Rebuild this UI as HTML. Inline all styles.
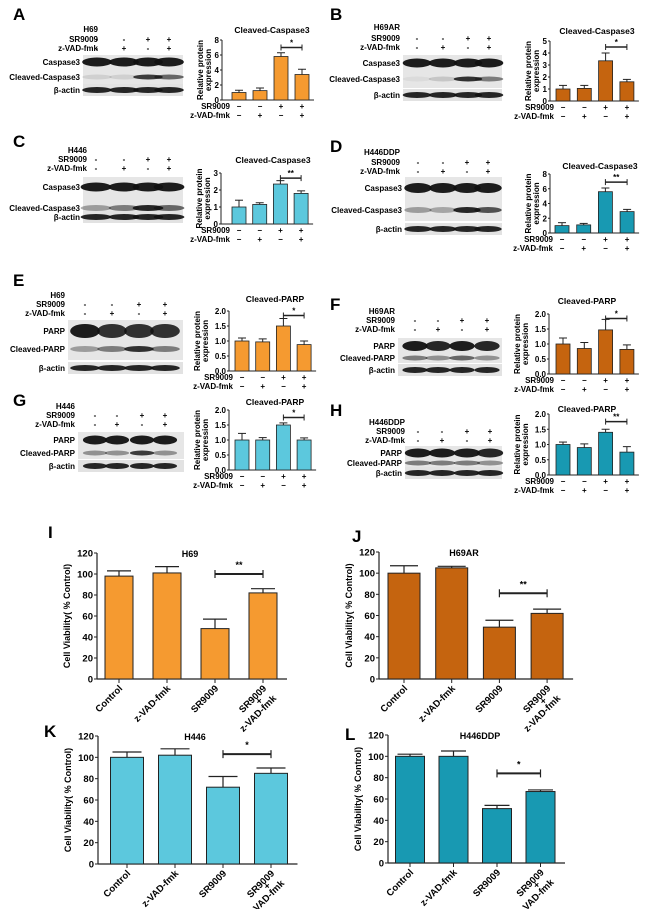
<!DOCTYPE html>
<html><head><meta charset="utf-8">
<style>
html,body{margin:0;padding:0;background:#fff;}
svg{display:block;font-family:"Liberation Sans",Arial,sans-serif;font-weight:bold;}
</style></head>
<body>
<svg id="fig" width="645" height="909" viewBox="0 0 645 909" xmlns="http://www.w3.org/2000/svg"></svg>
<script>
// ---- data: small western-blot quantification charts ----
const treatSR = ["-","-","+","+"];
const treatZ = ["-","+","-","+"];
const aVals = [1.0,1.25,5.8,3.4];   const aErr = [0.3,0.35,0.5,0.7];
const bVals = [1.0,1.05,3.35,1.6];  const bErr = [0.3,0.25,0.65,0.2];
const cVals = [1.0,1.15,2.35,1.8];  const cErr = [0.4,0.1,0.2,0.15];
const dVals = [1.0,1.1,5.6,2.9];    const dErr = [0.4,0.2,0.5,0.3];
const eVals = [1.0,0.97,1.5,0.88];  const eErr = [0.1,0.1,0.25,0.12];
const fVals = [1.0,0.85,1.47,0.82]; const fErr = [0.2,0.2,0.35,0.15];
const gVals = [1.0,1.0,1.5,1.0];    const gErr = [0.22,0.08,0.07,0.07];
const hVals = [1.0,0.9,1.4,0.75];   const hErr = [0.08,0.12,0.1,0.18];
const ticks8 = [0,2,4,6,8]; const ticks5 = [0,1,2,3,4,5]; const ticks3 = [0,1,2,3];
const ticks2 = ["0.0","0.5","1.0","1.5","2.0"];
// ---- data: cell viability charts ----
const viabCats = ["Control","z-VAD-fmk","SR9009","SR9009|+|z-VAD-fmk"];
const iVals = [98,101,48,82];  const iErr = [5,6,9,4];
const jVals = [100,105,49,62]; const jErr = [7,1.5,6.5,4];
const kVals = [100,102,72,85]; const kErr = [5,6,10,5];
const lVals = [100,100,51,67]; const lErr = [2,5,3,1.5];
const viabTicks = [0,20,40,60,80,100,120];

const NS = "http://www.w3.org/2000/svg";
const svg = document.getElementById("fig");
function el(tag, attrs, parent, text){
  const e = document.createElementNS(NS, tag);
  for (const k in attrs) e.setAttribute(k, attrs[k]);
  if (text !== undefined) e.textContent = text;
  (parent || svg).appendChild(e);
  return e;
}
function letter(t, x, y){
  const e = el("text",{x:x,y:y,"font-size":17},svg,t);
  
  
}

// ---- blot drawing ----
function blot(o){
  const g = el("g",{});
  
  
  el("text",{x:o.labelX,y:o.cellY,"font-size":8,"text-anchor":"end"},g,o.cell);
  el("text",{x:o.labelX,y:o.srY,"font-size":8,"text-anchor":"end"},g,"SR9009");
  el("text",{x:o.labelX,y:o.zY,"font-size":8,"text-anchor":"end"},g,"z-VAD-fmk");
  o.lanes.forEach((lx,i)=>{
    el("text",{x:lx,y:o.srY,"font-size":8,"text-anchor":"middle"},g,treatSR[i]);
    el("text",{x:lx,y:o.zY,"font-size":8,"text-anchor":"middle"},g,treatZ[i]);
  });
  el("rect",{x:o.bx,y:o.by,width:o.bw,height:o.bh,fill:"#e6e6e6"},g);
  el("rect",{x:o.bx,y:o.ay-6,width:o.bw,height:12,fill:"#e2e2e2"},g);
  const lw = (o.lanes[1]-o.lanes[0])*0.55;
  o.rows.forEach(r=>{
    el("text",{x:o.bx-3,y:r.y+3,"font-size":8,"text-anchor":"end"},g,r.label);
    o.lanes.forEach((lx,i)=>{
      const a = r.int[i];
      el("ellipse",{cx:lx,cy:r.y,rx:lw,ry:r.h,fill:"#111","fill-opacity":a},g);
    });
  });
  el("text",{x:o.bx-3,y:o.ay+3,"font-size":8,"text-anchor":"end"},g,"β-actin");
  o.lanes.forEach(lx=>{
    el("ellipse",{cx:lx,cy:o.ay,rx:lw,ry:3,fill:"#111","fill-opacity":0.9},g);
  });
}

// ---- small bar chart ----
function smallChart(o){
  const g = el("g",{});
  
  
  const ys = v => o.y0 - (v/o.max)*(o.y0-o.ytop);
  const xs = i => o.c0 + o.step*i;
  const bw = 14;
  el("text",{x:o.titleX,y:o.titleY,"font-size":8.5,"text-anchor":"middle"},g,o.title);
  const xEnd = xs(3)+bw/2+5;
  el("line",{x1:o.ax,y1:o.y0,x2:xEnd,y2:o.y0,stroke:"#222","stroke-width":1},g);
  el("line",{x1:o.ax,y1:o.y0,x2:o.ax,y2:o.ytop,stroke:"#222","stroke-width":1},g);
  o.ticks.forEach(t=>{
    const v = parseFloat(t); const y = ys(v);
    el("line",{x1:o.ax-2,y1:y,x2:o.ax,y2:y,stroke:"#222"},g);
    el("text",{x:o.ax-3,y:y+3,"font-size":8,"text-anchor":"end"},g,t);
  });
  const off = o.ticks[0].toString().length>1 ? 25 : 15;
  const yt = el("text",{transform:`translate(${o.ax-off},${(o.y0+o.ytop)/2}) rotate(-90)`,"font-size":8,"text-anchor":"middle"},g);
  el("tspan",{x:0,dy:-4},yt,"Relative protein");
  el("tspan",{x:0,dy:8},yt,"expression");
  o.vals.forEach((v,i)=>{
    const cx = xs(i);
    const b = el("rect",{x:cx-bw/2,y:ys(v),width:bw,height:o.y0-ys(v),fill:o.color,stroke:"#222","stroke-width":0.8},g);
    
    
    const ye = ys(v+o.err[i]);
    el("line",{x1:cx,y1:ys(v),x2:cx,y2:ye,stroke:"#222"},g);
    el("line",{x1:cx-4,y1:ye,x2:cx+4,y2:ye,stroke:"#222"},g);
    el("text",{x:cx,y:o.y0+9,"font-size":8,"text-anchor":"middle"},g,treatSR[i]==="-"?"−":"+");
    el("text",{x:cx,y:o.y0+18,"font-size":8,"text-anchor":"middle"},g,treatZ[i]==="-"?"−":"+");
  });
  el("text",{x:xs(0)-9,y:o.y0+9,"font-size":8,"text-anchor":"end"},g,"SR9009");
  el("text",{x:xs(0)-9,y:o.y0+18,"font-size":8,"text-anchor":"end"},g,"z-VAD-fmk");
  const sy = ys(o.sigV);
  el("line",{x1:xs(2),y1:sy,x2:xs(3),y2:sy,stroke:"#222","stroke-width":1.5},g);
  el("line",{x1:xs(2),y1:sy-3,x2:xs(2),y2:sy+3,stroke:"#222"},g);
  el("line",{x1:xs(3),y1:sy-3,x2:xs(3),y2:sy+3,stroke:"#222"},g);
  el("text",{x:(xs(2)+xs(3))/2,y:sy-2,"font-size":8,"text-anchor":"middle"},g,o.sig);
}

// ---- big viability chart ----
function bigChart(o){
  const g = el("g",{});
  
  
  const ys = v => o.y0 - (v/120)*(o.y0-o.ytop);
  const xs = i => o.c0 + o.step*i;
  el("text",{x:o.titleX,y:o.ytop+4,"font-size":9,"text-anchor":"middle"},g,o.title);
  const xEnd = xs(3)+o.bw/2+10;
  el("line",{x1:o.ax,y1:o.y0,x2:xEnd,y2:o.y0,stroke:"#222","stroke-width":1.2},g);
  el("line",{x1:o.ax,y1:o.y0,x2:o.ax,y2:o.ytop,stroke:"#222","stroke-width":1.2},g);
  viabTicks.forEach(t=>{
    const y = ys(t);
    el("line",{x1:o.ax-3,y1:y,x2:o.ax,y2:y,stroke:"#222"},g);
    el("text",{x:o.ax-4,y:y+3.5,"font-size":9.5,"text-anchor":"end"},g,t);
  });
  el("text",{transform:`translate(${o.ax-27},${(o.y0+o.ytop)/2}) rotate(-90)`,"font-size":9,"text-anchor":"middle"},g,"Cell Viability( % Control)");
  o.vals.forEach((v,i)=>{
    const cx = xs(i);
    const b = el("rect",{x:cx-o.bw/2,y:ys(v),width:o.bw,height:o.y0-ys(v),fill:o.color,stroke:"#222","stroke-width":1}, g);
    
    
    const ye = ys(v+o.err[i]);
    el("line",{x1:cx,y1:ys(v),x2:cx,y2:ye,stroke:"#222","stroke-width":1.2},g);
    el("line",{x1:cx-o.bw/2+2,y1:ye,x2:cx+o.bw/2-2,y2:ye,stroke:"#222","stroke-width":1.2},g);
    el("line",{x1:cx,y1:o.y0,x2:cx,y2:o.y0+4,stroke:"#222"},g);
    const lines = viabCats[i].split("|");
    const t = el("text",{transform:`translate(${cx+4},${o.y0+10}) rotate(-45)`,"font-size":9.5},g);
    lines.forEach((s,k)=>{
      if (k===0) el("tspan",{x:0,dy:0,"text-anchor":"end"},t,s);
      else if (k===1) el("tspan",{x:-14,dy:6,"text-anchor":"middle"},t,s);
      else el("tspan",{x:0,dy:8,"text-anchor":"end"},t,s);
    });
  });
  const sy = ys(o.sigV);
  el("line",{x1:xs(2),y1:sy,x2:xs(3),y2:sy,stroke:"#222","stroke-width":2},g);
  el("line",{x1:xs(2),y1:sy-4,x2:xs(2),y2:sy+4,stroke:"#222","stroke-width":1.2},g);
  el("line",{x1:xs(3),y1:sy-4,x2:xs(3),y2:sy+4,stroke:"#222","stroke-width":1.2},g);
  el("text",{x:(xs(2)+xs(3))/2,y:sy-6,"font-size":9,"text-anchor":"middle"},g,o.sig);
}

const ORANGE="#f59a30", DORANGE="#c5640f", LBLUE="#5cc8dd", TEAL="#1899b2";

// panel letters
letter("A",13,20); letter("B",330,20); letter("C",13,147); letter("D",330,152);
letter("E",13,286); letter("F",330,310); letter("G",13,406); letter("H",330,416);
letter("I",48,538); letter("J",352,542); letter("K",44,737); letter("L",345,740);

// blots
blot({name:"blot-a",cell:"H69",labelX:98,cellY:32,srY:42,zY:51,lanes:[97,124,148,169],bx:83,by:55,bw:100,bh:29,ay:90,
  rows:[{label:"Caspase3",y:62,h:4.5,int:[0.95,0.95,0.95,0.95]},{label:"Cleaved-Caspase3",y:77,h:2.5,int:[0.1,0.1,0.8,0.6]}]});
blot({name:"blot-b",cell:"H69AR",labelX:400,cellY:30,srY:41,zY:50,lanes:[417,443,468,489],bx:403,by:55,bw:99,bh:33,ay:95,
  rows:[{label:"Caspase3",y:63,h:4.5,int:[0.95,0.95,0.95,0.95]},{label:"Cleaved-Caspase3",y:79,h:2.5,int:[0.05,0.15,0.85,0.5]}]});
blot({name:"blot-c",cell:"H446",labelX:87,cellY:153,srY:162,zY:171,lanes:[96,124,148,169],bx:83,by:177,bw:100,bh:34,ay:217,
  rows:[{label:"Caspase3",y:187,h:4.5,int:[0.95,0.95,0.95,0.95]},{label:"Cleaved-Caspase3",y:208,h:3,int:[0.35,0.5,0.9,0.6]}]});
blot({name:"blot-d",cell:"H446DDP",labelX:400,cellY:155,srY:165,zY:174,lanes:[418,443,467,488],bx:405,by:177,bw:97,bh:44,ay:229,
  rows:[{label:"Caspase3",y:188,h:5,int:[0.95,0.95,0.95,0.95]},{label:"Cleaved-Caspase3",y:210,h:3,int:[0.35,0.3,0.9,0.7]}]});
blot({name:"blot-e",cell:"H69",labelX:65,cellY:298,srY:307,zY:316,lanes:[85,112,139,165],bx:68,by:320,bw:115,bh:40,ay:368,
  rows:[{label:"PARP",y:331,h:7,int:[0.95,0.85,0.85,0.85]},{label:"Cleaved-PARP",y:349,h:3,int:[0.35,0.5,0.85,0.5]}]});
blot({name:"blot-f",cell:"H69AR",labelX:395,cellY:314,srY:323,zY:332,lanes:[415,438,462,487],bx:398,by:338,bw:104,bh:25,ay:370,
  rows:[{label:"PARP",y:346,h:5,int:[0.95,0.9,0.95,0.9]},{label:"Cleaved-PARP",y:358,h:2.5,int:[0.5,0.4,0.6,0.4]}]});
blot({name:"blot-g",cell:"H446",labelX:75,cellY:409,srY:418,zY:427,lanes:[95,117,142,165],bx:78,by:432,bw:106,bh:27,ay:466,
  rows:[{label:"PARP",y:440,h:4.5,int:[0.95,0.95,0.95,0.95]},{label:"Cleaved-PARP",y:453,h:2.5,int:[0.4,0.4,0.8,0.4]}]});
blot({name:"blot-h",cell:"H446DDP",labelX:405,cellY:425,srY:434,zY:443,lanes:[418,442,467,490],bx:405,by:446,bw:97,bh:22,ay:473,
  rows:[{label:"PARP",y:453,h:4.5,int:[0.95,0.95,0.95,0.9]},{label:"Cleaved-PARP",y:463,h:2.5,int:[0.5,0.5,0.5,0.4]}]});

// small charts
smallChart({name:"chart-a",title:"Cleaved-Caspase3",titleX:272,titleY:33,ax:222,y0:100,ytop:40,max:8,ticks:ticks8,c0:239,step:21,vals:aVals,err:aErr,color:ORANGE,sigV:7,sig:"*"});
smallChart({name:"chart-b",title:"Cleaved-Caspase3",titleX:597,titleY:34,ax:550,y0:101,ytop:41,max:5,ticks:ticks5,c0:563,step:21.3,vals:bVals,err:bErr,color:DORANGE,sigV:4.5,sig:"*"});
smallChart({name:"chart-c",title:"Cleaved-Caspase3",titleX:273,titleY:163,ax:221,y0:224,ytop:173,max:3,ticks:ticks3,c0:239,step:20.7,vals:cVals,err:cErr,color:LBLUE,sigV:2.7,sig:"**"});
smallChart({name:"chart-d",title:"Cleaved-Caspase3",titleX:600,titleY:169,ax:550,y0:233,ytop:174,max:8,ticks:ticks8,c0:562,step:21.7,vals:dVals,err:dErr,color:TEAL,sigV:6.9,sig:"**"});
smallChart({name:"chart-e",title:"Cleaved-PARP",titleX:275,titleY:302,ax:229,y0:371,ytop:311,max:2,ticks:ticks2,c0:242,step:20.7,vals:eVals,err:eErr,color:ORANGE,sigV:1.85,sig:"*"});
smallChart({name:"chart-f",title:"Cleaved-PARP",titleX:587,titleY:304,ax:549,y0:374,ytop:314,max:2,ticks:ticks2,c0:563,step:21.3,vals:fVals,err:fErr,color:DORANGE,sigV:1.85,sig:"*"});
smallChart({name:"chart-g",title:"Cleaved-PARP",titleX:275,titleY:405,ax:229,y0:470,ytop:410,max:2,ticks:ticks2,c0:242,step:20.7,vals:gVals,err:gErr,color:LBLUE,sigV:1.75,sig:"*"});
smallChart({name:"chart-h",title:"Cleaved-PARP",titleX:587,titleY:412,ax:549,y0:475,ytop:414,max:2,ticks:ticks2,c0:563,step:21.3,vals:hVals,err:hErr,color:TEAL,sigV:1.75,sig:"**"});

// big charts
bigChart({name:"chart-i",title:"H69",titleX:190,ax:97,y0:679,ytop:553,c0:119,step:48,bw:28,vals:iVals,err:iErr,color:ORANGE,sigV:100,sig:"**"});
bigChart({name:"chart-j",title:"H69AR",titleX:464,ax:379,y0:679,ytop:552,c0:404,step:47.7,bw:32,vals:jVals,err:jErr,color:DORANGE,sigV:81,sig:"**"});
bigChart({name:"chart-k",title:"H446",titleX:195,ax:98,y0:864,ytop:736,c0:127,step:48,bw:33,vals:kVals,err:kErr,color:LBLUE,sigV:103,sig:"*"});
bigChart({name:"chart-l",title:"H446DDP",titleX:480,ax:388,y0:863,ytop:735,c0:410,step:43.5,bw:29,vals:lVals,err:lErr,color:TEAL,sigV:84,sig:"*"});
</script>
</body></html>
